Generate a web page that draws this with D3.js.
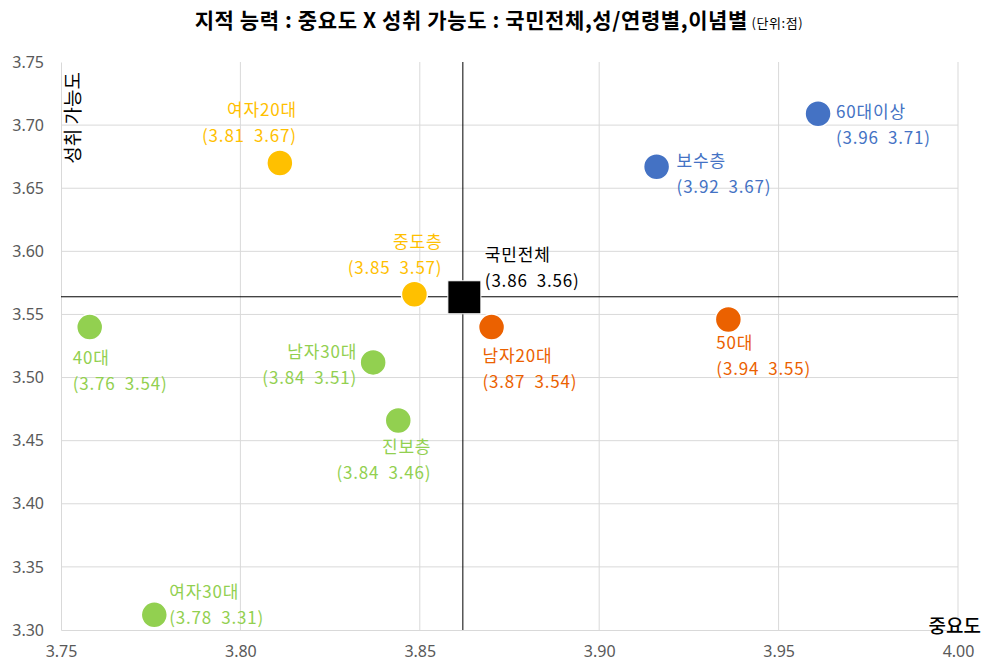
<!DOCTYPE html>
<html>
<head>
<meta charset="utf-8">
<script src="https://cdn.jsdelivr.net/npm/d3@7"></script>
<style>
  body { margin: 0; background: #fff; }
  text { font-family: "Noto Sans CJK KR", "Noto Sans", sans-serif; }
</style>
</head>
<body>
<div id="chart"></div>
<script>
// data
var names = ["60대이상", "보수층", "여자20대", "중도층", "국민전체", "남자20대", "50대", "40대", "남자30대", "진보층", "여자30대"];
var importance = [3.961, 3.916, 3.811, 3.8485, 3.862, 3.870, 3.936, 3.758, 3.837, 3.844, 3.776];
var achievable = [3.709, 3.667, 3.670, 3.566, 3.564, 3.540, 3.546, 3.540, 3.512, 3.466, 3.312];
var labelX = ["3.96", "3.92", "3.81", "3.85", "3.86", "3.87", "3.94", "3.76", "3.84", "3.84", "3.78"];
var labelY = ["3.71", "3.67", "3.67", "3.57", "3.56", "3.54", "3.55", "3.54", "3.51", "3.46", "3.31"];
var groups = ["age", "ideo", "sex", "mid", "all", "male20", "age50", "green", "green", "green", "green"];
var xTicks = [3.75, 3.80, 3.85, 3.90, 3.95, 4.00];
var yTicks = [3.30, 3.35, 3.40, 3.45, 3.50, 3.55, 3.60, 3.65, 3.70, 3.75];

// colours and label placement
var colorOf = {
  age: "#4472C4", ideo: "#4472C4", sex: "#FFC000", mid: "#FFC000",
  all: "#000000", male20: "#EB6100", age50: "#EB6100", green: "#92D050"
};
// [dx, dy first line, anchor]
var labelPos = [
  [18, -2, "start"], [20, -6, "start"], [17, -53, "end"], [28, -52, "end"],
  [22, -42, "start"], [-9, 29, "start"], [-12, 24, "start"], [-17, 31, "start"],
  [-16, -10, "end"], [33, 27, "end"], [15, -23, "start"]
];

var width = 991, height = 662;
var margin = { top: 62, right: 33, bottom: 32, left: 61 };

var svg = d3.select("#chart").append("svg")
  .attr("width", width)
  .attr("height", height);

var x = d3.scaleLinear().domain([3.75, 4.00]).range([margin.left, width - margin.right]);
var y = d3.scaleLinear().domain([3.30, 3.75]).range([height - margin.bottom, margin.top]);

// gridlines
svg.append("g").selectAll("line")
  .data(xTicks.slice(1))
  .enter().append("line")
  .attr("x1", d => x(d)).attr("x2", d => x(d))
  .attr("y1", y(3.75)).attr("y2", y(3.30))
  .attr("stroke", "#d9d9d9");
svg.append("g").selectAll("line")
  .data(yTicks.slice(1, -1))
  .enter().append("line")
  .attr("x1", x(3.75)).attr("x2", x(4.00))
  .attr("y1", d => y(d)).attr("y2", d => y(d))
  .attr("stroke", "#d9d9d9");

// axes
var xAxis = svg.append("g")
  .attr("transform", "translate(0," + y(3.30) + ")")
  .call(d3.axisBottom(x).tickValues(xTicks).tickFormat(d3.format(".2f")).tickSize(0).tickPadding(16));
var yAxis = svg.append("g")
  .attr("transform", "translate(" + x(3.75) + ",0)")
  .call(d3.axisLeft(y).tickValues(yTicks).tickFormat(d3.format(".2f")).tickSize(0).tickPadding(17));
[xAxis, yAxis].forEach(function (a) {
  a.select(".domain").attr("stroke", "#d9d9d9");
  a.selectAll("text").attr("fill", "#595959").style("font-size", "16px")
    .style("font-family", "'Noto Sans', sans-serif");
});

// crosshair through 국민전체
var iAll = names.indexOf("국민전체");
svg.append("line")
  .attr("x1", x(importance[iAll])).attr("x2", x(importance[iAll]))
  .attr("y1", y(3.75)).attr("y2", y(3.30))
  .attr("stroke", "#000");
svg.append("line")
  .attr("x1", x(3.75)).attr("x2", x(4.00))
  .attr("y1", y(achievable[iAll])).attr("y2", y(achievable[iAll]))
  .attr("stroke", "#000");

// points
var pts = names.map(function (n, i) {
  return { name: n, x: importance[i], y: achievable[i], lx: labelX[i], ly: labelY[i], c: colorOf[groups[i]], pos: labelPos[i] };
});

svg.append("g").selectAll("circle")
  .data(pts.filter(d => d.name !== "국민전체"))
  .enter().append("circle")
  .attr("cx", d => x(d.x))
  .attr("cy", d => y(d.y))
  .attr("r", 13)
  .attr("fill", d => d.c)
  .attr("stroke", "#fff")
  .attr("stroke-width", 1.5);

svg.append("rect")
  .attr("x", x(importance[iAll]) - 15)
  .attr("y", y(achievable[iAll]) - 16)
  .attr("width", 33).attr("height", 33)
  .attr("fill", "#000")
  .attr("stroke", "#fff")
  .attr("stroke-width", 1);

// labels
var lab = svg.append("g").selectAll("text")
  .data(pts)
  .enter().append("text")
  .attr("text-anchor", d => d.pos[2])
  .attr("fill", d => d.c)
  .style("font-size", "17px")
  .style("letter-spacing", "0.8px")
  .style("white-space", "pre")
  .attr("xml:space", "preserve");
lab.append("tspan")
  .attr("x", d => x(d.x) + d.pos[0])
  .attr("y", d => y(d.y) + d.pos[1])
  .attr("dy", "0.35em")
  .text(d => d.name);
lab.append("tspan")
  .attr("x", d => x(d.x) + d.pos[0])
  .attr("y", d => y(d.y) + d.pos[1] + 26)
  .attr("dy", "0.35em")
  .text(d => "(" + d.lx + "  " + d.ly + ")");

// titles
var title = svg.append("text")
  .attr("x", 499).attr("y", 28)
  .attr("text-anchor", "middle")
  .attr("fill", "#000")
  .style("letter-spacing", "0.6px");
title.append("tspan")
  .style("font-size", "21px").style("font-weight", "bold")
  .text("지적 능력 : 중요도 X 성취 가능도 : 국민전체,성/연령별,이념별");
title.append("tspan")
  .style("font-size", "13px")
  .text(" (단위:점)");

svg.append("text")
  .attr("transform", "translate(80,72) rotate(-90)")
  .attr("text-anchor", "end")
  .style("font-size", "19px")
  .attr("fill", "#000")
  .text("성취 가능도");

svg.append("text")
  .attr("x", 981).attr("y", 633)
  .attr("text-anchor", "end")
  .style("font-size", "19px")
  .style("font-weight", "500")
  .attr("fill", "#000")
  .text("중요도");
</script>
</body>
</html>
